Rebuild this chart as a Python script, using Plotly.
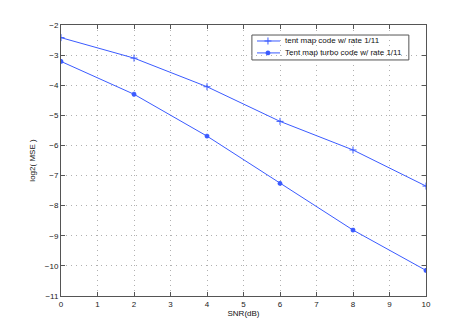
import plotly.graph_objects as go

snr = [0, 2, 4, 6, 8, 10]
tent = [-2.42, -3.10, -4.05, -5.20, -6.15, -7.35]
turbo = [-3.21, -4.30, -5.69, -7.26, -8.81, -10.15]
names = ["tent map code w/ rate 1/11", "Tent map turbo code w/ rate 1/11"]

blue = "#3b5bff"
sym = ["cross-thin", "asterisk-open"]
msize = [5, 4]
mwidth = [1, 1.5]

fig = go.Figure()
for ys, nm, s, ms, mw in zip([tent, turbo], names, sym, msize, mwidth):
    fig.add_trace(go.Scatter(x=snr, y=ys, mode="lines+markers", name=nm,
                             line=dict(color=blue, width=1),
                             marker=dict(symbol=s, size=ms,
                                         line=dict(color=blue, width=mw))))

# hand-drawn legend (matlab style compact box)
rows = [0.941, 0.897]
fig.add_shape(type="rect", xref="paper", yref="paper", x0=0.523, x1=0.953,
              y0=0.871, y1=0.963, line=dict(color="#555555", width=1),
              fillcolor="white", layer="between")
for r, nm, s, ms, mw in zip(rows, names, sym, msize, mwidth):
    fig.add_shape(type="line", xref="paper", yref="paper", x0=0.537, x1=0.6,
                  y0=r, y1=r, line=dict(color=blue, width=1), layer="above")
    fig.add_trace(go.Scatter(x=[0.567], y=[r], xaxis="x2", yaxis="y2",
                             mode="markers", showlegend=False, hoverinfo="skip",
                             marker=dict(symbol=s, size=ms, color=blue,
                                         line=dict(color=blue, width=mw))))
    fig.add_annotation(x=0.608, y=r, xref="paper", yref="paper", text=nm,
                       showarrow=False, xanchor="left", yanchor="middle",
                       font=dict(size=8, color="#111111"))

axis = dict(showline=True, linecolor="#555555", linewidth=1, mirror="ticks",
            ticks="inside", ticklen=4, tickcolor="#555555",
            showgrid=True, gridcolor="#b0b0b0", griddash="1px,4px", gridwidth=1,
            zeroline=False, tickfont=dict(size=8, color="#222222"),
            automargin=False)

fig.update_layout(
    width=471, height=333,
    paper_bgcolor="white", plot_bgcolor="white",
    margin=dict(l=53, r=53, t=17, b=45),
    font=dict(family="Liberation Sans, Arial, sans-serif", size=8, color="#111111"),
    xaxis=dict(axis, range=[0, 10], dtick=1,
               title=dict(text="SNR(dB)", font=dict(size=8), standoff=2)),
    yaxis=dict(axis, range=[-11, -2], dtick=1,
               title=dict(text="log2( MSE )", font=dict(size=8), standoff=8)),
    xaxis2=dict(overlaying="x", range=[0, 1], visible=False),
    yaxis2=dict(overlaying="y", range=[0, 1], visible=False),
    showlegend=False,
)

fig.write_html("out.html")
